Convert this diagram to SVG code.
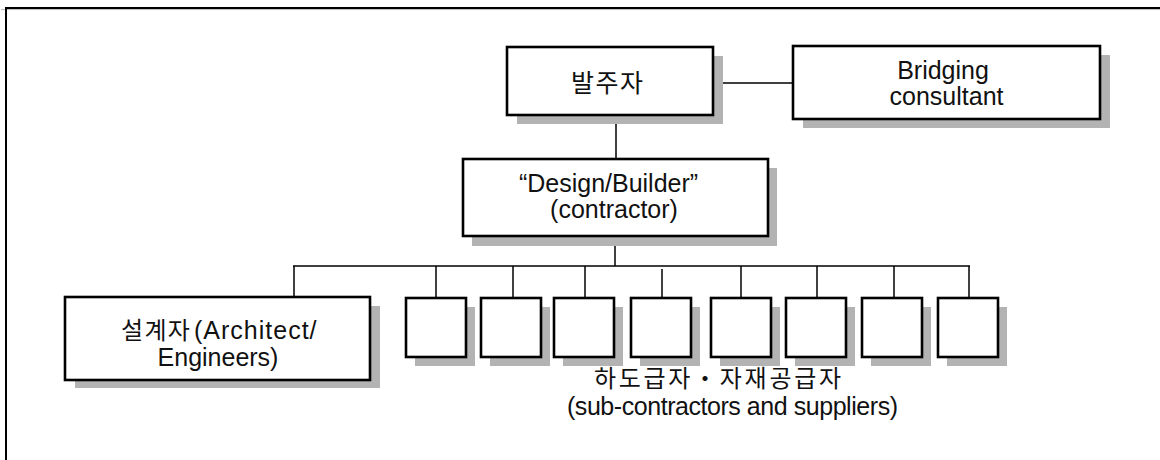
<svg xmlns="http://www.w3.org/2000/svg" width="1160" height="460" viewBox="0 0 1160 460">
  <style>
    .box { fill: #ffffff; stroke: #000000; stroke-width: 2.6; }
    .shadow { fill: #b3b3b3; stroke: none; }
    .wire { fill: none; stroke: #000000; stroke-width: 1.5; }
    .lbl { font-family: "Liberation Sans", "Noto Sans CJK KR", sans-serif; font-size: 25px; fill: #111111; }
    .kr { font-family: "Noto Sans CJK KR", "Liberation Sans", sans-serif; fill: #111111; }
  </style>

  <!-- page frame -->
  <g id="frame">
    <line x1="5" y1="8" x2="1160" y2="8" stroke="#000" stroke-width="2"/>
    <line x1="1" y1="9.6" x2="1160" y2="9.6" stroke="#bbbbbb" stroke-width="1"/>
    <line x1="6" y1="7" x2="6" y2="460" stroke="#000" stroke-width="2"/>
  </g>

  <!-- connectors -->
  <g id="connectors">
    <line class="wire" x1="713" y1="83" x2="793" y2="83"/>
    <line class="wire" x1="616" y1="115" x2="616" y2="159"/>
    <line class="wire" x1="615" y1="236" x2="615" y2="266"/>
    <line class="wire" x1="293" y1="266" x2="970" y2="266"/>
    <line class="wire" x1="294" y1="266" x2="294" y2="297"/>
    <line class="wire" x1="436" y1="266" x2="436" y2="298"/>
    <line class="wire" x1="513" y1="266" x2="513" y2="298"/>
    <line class="wire" x1="585" y1="266" x2="585" y2="298"/>
    <line class="wire" x1="662" y1="269" x2="662" y2="298"/>
    <line class="wire" x1="741" y1="266" x2="741" y2="298"/>
    <line class="wire" x1="817" y1="266" x2="817" y2="298"/>
    <line class="wire" x1="894" y1="266" x2="894" y2="298"/>
    <line class="wire" x1="969" y1="266" x2="969" y2="298"/>
  </g>

  <!-- owner -->
  <g id="owner">
    <rect class="shadow" x="517" y="56" width="206" height="68"/>
    <rect class="box" x="507" y="47" width="206" height="68"/>
    <text class="kr" x="571" y="92" font-size="25" letter-spacing="1.5">발주자</text>
  </g>

  <!-- bridging consultant -->
  <g id="bridging-consultant">
    <rect class="shadow" x="803" y="55" width="307" height="73"/>
    <rect class="box" x="793" y="46" width="307" height="73"/>
    <text class="lbl" text-anchor="middle">
      <tspan x="946.5" y="79">Bridging</tspan>
      <tspan x="946.5" y="105">consultant</tspan>
    </text>
  </g>

  <!-- design/builder -->
  <g id="design-builder">
    <rect class="shadow" x="472" y="168" width="305" height="78"/>
    <rect class="box" x="463" y="159" width="305" height="77"/>
    <text class="lbl" text-anchor="middle">
      <tspan x="612" y="192">“Design/Builder”</tspan>
      <tspan x="614" y="218">(contractor)</tspan>
    </text>
  </g>

  <!-- architect / engineers -->
  <g id="architect">
    <rect class="shadow" x="75" y="306" width="305" height="82"/>
    <rect class="box" x="65" y="297" width="305" height="83"/>
    <text class="lbl" y="339">
      <tspan class="kr" x="121" font-size="24" letter-spacing="1.3">설계자</tspan><tspan x="194" letter-spacing="1">(Architect/</tspan>
    </text>
    <text class="lbl" x="218" y="366" text-anchor="middle">Engineers)</text>
  </g>

  <!-- sub-contractor and supplier boxes -->
  <g id="sub-1">
    <rect class="shadow" x="415" y="307" width="60" height="59"/>
    <rect class="box" x="406" y="298" width="60" height="59"/>
  </g>
  <g id="sub-2">
    <rect class="shadow" x="490" y="307" width="60" height="59"/>
    <rect class="box" x="481" y="298" width="60" height="59"/>
  </g>
  <g id="sub-3">
    <rect class="shadow" x="563" y="307" width="60" height="59"/>
    <rect class="box" x="554" y="298" width="60" height="59"/>
  </g>
  <g id="sub-4">
    <rect class="shadow" x="640" y="307" width="60" height="59"/>
    <rect class="box" x="631" y="298" width="60" height="59"/>
  </g>
  <g id="sub-5">
    <rect class="shadow" x="720" y="307" width="60" height="59"/>
    <rect class="box" x="711" y="298" width="60" height="59"/>
  </g>
  <g id="sub-6">
    <rect class="shadow" x="795" y="307" width="60" height="59"/>
    <rect class="box" x="786" y="298" width="60" height="59"/>
  </g>
  <g id="sub-7">
    <rect class="shadow" x="871" y="307" width="60" height="59"/>
    <rect class="box" x="862" y="298" width="60" height="59"/>
  </g>
  <g id="sub-8">
    <rect class="shadow" x="947" y="307" width="60" height="59"/>
    <rect class="box" x="938" y="298" width="60" height="59"/>
  </g>

  <!-- group caption -->
  <g id="sub-caption">
    <text class="kr" x="594" y="387" font-size="24" letter-spacing="2.7">하도급자・자재공급자</text>
    <text class="lbl" x="567" y="415" textLength="331" lengthAdjust="spacing">(sub-contractors and suppliers)</text>
  </g>
</svg>
